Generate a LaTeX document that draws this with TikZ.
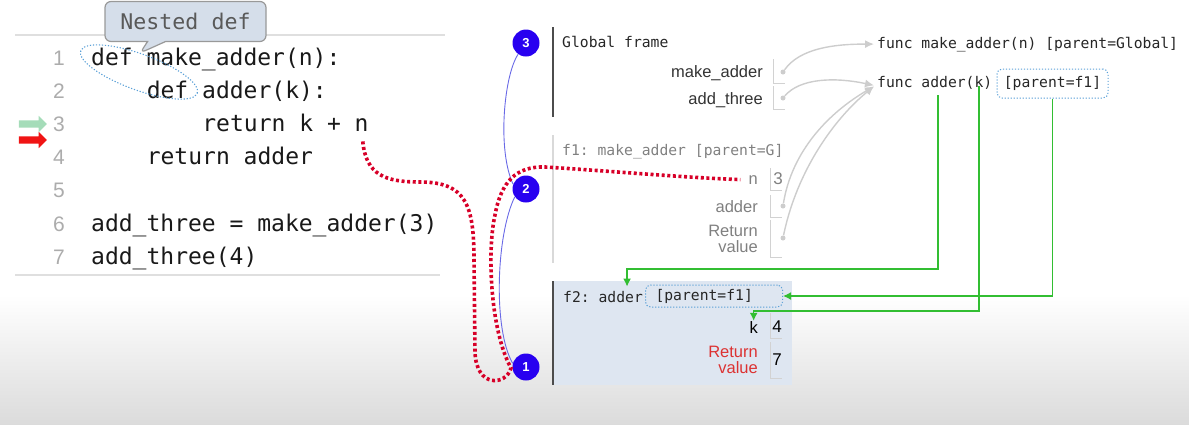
\documentclass[tikz,border=0pt]{standalone}
\usepackage{fontspec}
\setmainfont{Liberation Sans}
\setmonofont{DejaVu Sans Mono}
\usepackage{tikz}
\usetikzlibrary{shapes,arrows,arrows.meta,positioning,shadings}

\definecolor{stepblue}{RGB}{40,0,240}
\definecolor{linkblue}{RGB}{105,105,230}
\definecolor{dotred}{RGB}{215,0,40}
\definecolor{ptrgreen}{RGB}{50,190,50}
\definecolor{ptrgray}{RGB}{205,205,205}
\definecolor{frameblue}{RGB}{222,230,241}
\definecolor{tipfill}{RGB}{213,222,234}
\definecolor{lightgreen}{RGB}{165,220,185}
\definecolor{curred}{RGB}{240,20,20}
\definecolor{retred}{RGB}{220,50,50}
\definecolor{parentblue}{RGB}{90,160,215}

\newcommand{\valslot}[3]{\draw[slotline] (#1,#2) -- (#1,#3) -- ++(12,0);}

\begin{document}
\begin{tikzpicture}[x=1pt,y=-1pt,
    every node/.style={inner sep=0pt},
    lineno/.style={anchor=base east, text=gray!65, font=\fontsize{21}{24}\selectfont},
    code/.style={anchor=base west, text=black!90, font=\fontsize{23}{27}\ttfamily},
    mono/.style={anchor=base west, text=black!85, font=\fontsize{14.7}{17}\ttfamily},
    varname/.style={anchor=base east, text=black!80, font=\fontsize{16.5}{16}\selectfont},
    retname/.style={anchor=east, align=right, font=\fontsize{16.5}{16}\selectfont},
    value/.style={font=\fontsize{17}{20}\selectfont},
    linemark/.style={single arrow, inner xsep=0pt, inner ysep=3.5pt,
        minimum height=28pt, single arrow head extend=4.5pt},
    stepdot/.style={circle, fill=stepblue, text=white, minimum size=27pt,
        font=\bfseries\fontsize{13}{15}\selectfont},
    parentbox/.style={draw=parentblue, line width=1pt,
        dash pattern=on 1.2pt off 1.8pt, rounded corners=5pt},
    ptrdot/.style={circle, fill=ptrgray, minimum size=5pt},
    ptrgrey/.style={draw=ptrgray, line width=1.4pt, -{Latex[length=9pt,width=8pt]}},
    ptrline/.style={draw=ptrgreen, line width=1.5pt, -{Latex[length=8pt,width=8pt]}},
    slotline/.style={draw=gray!35, line width=1pt},
    crossdots/.style={draw=dotred, line width=3.6pt,
        dash pattern=on 3pt off 2.6pt}
]
\useasboundingbox (0,0) rectangle (1189,424);
\shade[top color=white, bottom color=black!14] (0,295) rectangle (1189,424);

% code listing
\draw[gray!25, line width=1.2pt] (15,35) -- (445,35) (15,275) -- (440,275);
\foreach \i in {1,...,7}
  \node[lineno] (num\i) at (65,{65+33.2*(\i-1)}) {\i};
\node[code] (line1) at (91,65) {def make\_adder(n):};
\node[code] (line2) at (146.6,98.2) {def adder(k):};
\node[code] (line3) at (202.2,131.4) {return k + n};
\node[code] (line4) at (146.6,164.6) {return adder};
\node[code] (line6) at (91,231) {add\_three = make\_adder(3)};
\node[code] (line7) at (91,264.2) {add\_three(4)};

\node[linemark, fill=lightgreen] (nextarrow) at (31,124) {};
\node[linemark, fill=curred] (curarrow) at (31,140) {};

\node[ellipse, draw=parentblue, line width=1.1pt, dash pattern=on 1.2pt off 1.8pt,
    rotate=-20, minimum width=124pt, minimum height=36pt] (defring) at (139,72) {};
\node[rectangle callout, draw=gray!80, fill=tipfill, line width=1.2pt,
    rounded corners=6pt, minimum width=161pt, minimum height=40pt,
    callout absolute pointer={(140,53)}, callout pointer width=18pt,
    text=black!65, font=\fontsize{21.6}{24}\ttfamily] (nestedtip) at (185.5,21.5) {Nested def};

% global frame
\draw[black!70, line width=1.5pt] (553,27) -- (553,117);
\node[mono] (gtitle) at (562,47) {Global frame};
\node[varname] (gmake) at (763,77) {make\_adder};
\node[varname] (gthree) at (763,104) {add\_three};
\valslot{773}{59}{83}
\valslot{773}{86}{109}
\node[ptrdot] (gmakedot) at (783,72) {};
\node[ptrdot] (gthreedot) at (783,98) {};

% f1
\draw[gray!30, line width=1.2pt] (553,135) -- (553,263);
\node[mono, text=gray] (f1title) at (562,155) {f1: make\_adder [parent=G]};
\node[varname, text=gray] (f1n) at (758,184) {n};
\node[varname, text=gray] (f1adder) at (758,212) {adder};
\node[retname, text=gray] (f1ret) at (758,239) {Return\\value};
\node[value, text=gray] (f1nval) at (778,179) {3};
\valslot{770}{168}{190}
\valslot{770}{195}{217}
\valslot{770}{220}{257}
\node[ptrdot] (f1adderdot) at (783,206) {};
\node[ptrdot] (f1retdot) at (783,238) {};

% f2
\node[fill=frameblue, minimum width=239pt, minimum height=104pt, anchor=north west] (f2frame) at (553,281) {};
\draw[black!70, line width=1.5pt] (f2frame.north west) -- (f2frame.south west);
\node[mono] (f2title) at (563,302) {f2: adder};
\node[mono, parentbox, anchor=west, text width=117pt, inner xsep=10pt,
    minimum height=22pt] (f2parent) at (645,296) {[parent=f1]};
\node[varname, text=black] (f2k) at (758,333) {k};
\node[retname, text=retred] (f2ret) at (758,360) {Return\\value};
\node[value, text=black] (f2kval) at (777,327) {4};
\node[value, text=black] (f2retval) at (777,360) {7};
\valslot{770}{313}{338}
\valslot{770}{342}{378}

% function objects
\node[mono] (fmake) at (877,48) {func make\_adder(n) [parent=Global]};
\node[mono] (fadder) at (877,87) {func adder(k)};
\node[mono, parentbox, anchor=center, minimum width=111pt, minimum height=29pt] (fparent) at (1052.5,83.5) {[parent=f1]};

\draw[ptrgrey] (gmakedot) .. controls (800,48) and (835,44) .. ([xshift=-3pt]fmake.west);
\draw[ptrgrey] (gthreedot) .. controls (800,78) and (835,77) .. ([xshift=-3pt,yshift=-3pt]fadder.west);
\draw[ptrgrey] (f1adderdot) .. controls (792,150) and (830,112) .. ([xshift=-3pt,yshift=-4pt]fadder.west);
\draw[ptrgrey] (f1retdot) .. controls (797,170) and (835,118) .. ([xshift=-3pt,yshift=-4pt]fadder.west);

\coordinate (adderfoot) at (938,95);
\coordinate (kfoot) at (979,86);
\draw[ptrline] (adderfoot) -- ++(0,174) -| ([xshift=-16pt,yshift=4pt]f2title.north east);
\draw[ptrline] (kfoot) -- ++(0,225) -| (f2k.north);
\draw[ptrline] (fparent.south) |- (f2parent.east);

% steps
\node[stepdot] (step3) at (526,43) {3};
\node[stepdot] (step2) at (526,189) {2};
\node[stepdot] (step1) at (526,367) {1};
\draw[linkblue, line width=0.9pt] (step3.235) .. controls (504,75) and (497,150) .. (step2.160);
\draw[linkblue, line width=0.9pt] (step2.215) .. controls (496,235) and (493,330) .. (step1.165);

\draw[crossdots] ([xshift=-6pt,yshift=-10pt]line3.base east)
  .. controls (366,175) and (385,182) .. (420,182)
  .. controls (466,182) and (474,205) .. (474,260) -- (475,352)
  .. controls (476,388) and (506,386) .. (511,368)
  .. controls (490,330) and (487,250) .. (495,215)
  .. controls (501,182) and (516,166) .. (545,167)
  .. controls (610,171) and (690,178) .. ([xshift=-8pt]f1n.west);
\end{tikzpicture}
\end{document}
